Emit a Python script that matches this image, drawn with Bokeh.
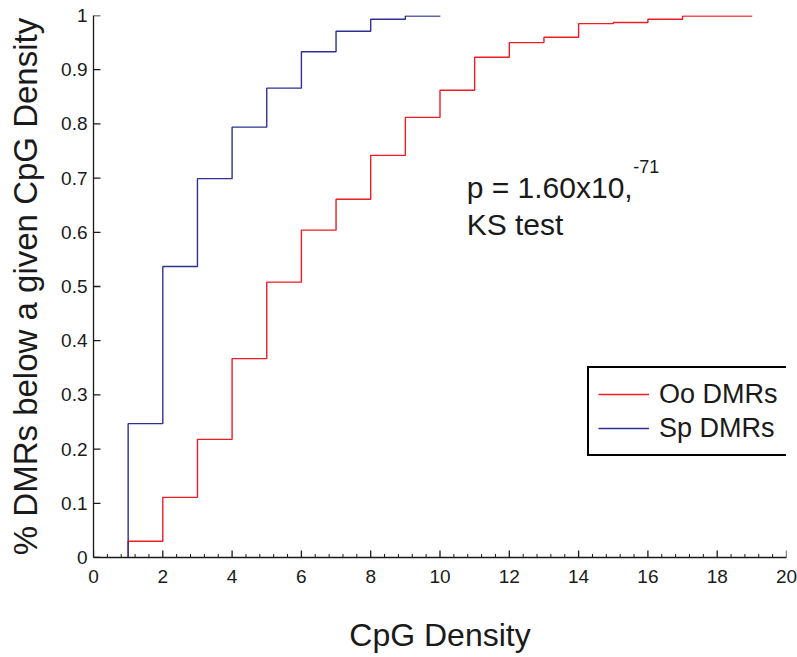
from bokeh.plotting import figure
from bokeh.models import Range1d, Legend, LegendItem, Label, FixedTicker
from bokeh.embed import file_html
from bokeh.resources import INLINE

# ---- data ----
oo_density = [1, 2, 3, 4, 5, 6, 7, 8, 9, 10, 11, 12, 13, 14, 15, 16, 17, 18, 19]
oo_cdf = [0.030, 0.111, 0.218, 0.367, 0.508, 0.604, 0.661, 0.742, 0.812, 0.862,
          0.923, 0.950, 0.960, 0.985, 0.987, 0.993, 0.999, 0.999, 1.000]
sp_density = [1, 2, 3, 4, 5, 6, 7, 8, 9, 10]
sp_cdf = [0.247, 0.537, 0.699, 0.794, 0.866, 0.933, 0.971, 0.993, 0.999, 1.000]

x_ticks = [0, 2, 4, 6, 8, 10, 12, 14, 16, 18, 20]
x_minor_ticks = [round(i * 0.4, 1) for i in range(51) if i % 5 != 0]
y_ticks = [0, 0.1, 0.2, 0.3, 0.4, 0.5, 0.6, 0.7, 0.8, 0.9, 1.0]
y_tick_labels = ["0", "0.1", "0.2", "0.3", "0.4", "0.5", "0.6", "0.7", "0.8", "0.9", "1"]

series_names = ["Oo DMRs", "Sp DMRs"]
annotation_main = "p = 1.60x10,"
annotation_exp = "-71"
annotation_test = "KS test"

FONT = "Liberation Sans"
RED = "#EE1C25"
BLUE = "#2E3192"
INK = "#1a1a1a"

W, H = 797, 657
BL, BR, BT, BB = 93, 11, 15, 100
X0, X1, Y0, Y1 = 0, 20, 0, 1
frame_w = W - BL - BR
frame_h = H - BT - BB
# pixel -> data conversions for tick lengths
px_x = (X1 - X0) / frame_w
px_y = (Y1 - Y0) / frame_h
MAJOR_LEN, MINOR_LEN = 7, 3.5

p = figure(width=W, height=H, output_backend="svg", toolbar_location=None,
           x_range=Range1d(X0, X1), y_range=Range1d(Y0, Y1),
           min_border_left=BL, min_border_right=BR, min_border_top=BT, min_border_bottom=BB)
p.outline_line_color = None
p.xgrid.visible = False
p.ygrid.visible = False
p.background_fill_color = "white"
p.border_fill_color = "white"

# inward tick marks at the tick values
p.segment(x0=x_ticks, y0=[Y0] * len(x_ticks), x1=x_ticks, y1=[Y0 + MAJOR_LEN * px_y] * len(x_ticks),
          line_color=INK, line_width=1.3)
p.segment(x0=x_minor_ticks, y0=[Y0] * len(x_minor_ticks), x1=x_minor_ticks,
          y1=[Y0 + MINOR_LEN * px_y] * len(x_minor_ticks), line_color=INK, line_width=1.0)
p.segment(x0=[X0] * len(y_ticks), y0=y_ticks, x1=[X0 + MAJOR_LEN * px_x] * len(y_ticks), y1=y_ticks,
          line_color=INK, line_width=1.3)

# step curves (MATLAB stairs-like), starting from 0 at the first density
r_oo = p.step(x=[oo_density[0]] + oo_density, y=[0] + oo_cdf, mode="after",
              line_color=RED, line_width=1.4)
r_sp = p.step(x=[sp_density[0]] + sp_density, y=[0] + sp_cdf, mode="after",
              line_color=BLUE, line_width=1.4)

# axes
for ax in (p.xaxis[0], p.yaxis[0]):
    ax.axis_line_color = INK
    ax.axis_line_width = 1.3
    ax.major_tick_line_color = None
    ax.minor_tick_line_color = None
    ax.major_tick_in = 0
    ax.major_tick_out = 0
    ax.minor_tick_in = 0
    ax.minor_tick_out = 0
    ax.major_label_text_font = FONT
    ax.major_label_text_font_size = "19px"
    ax.major_label_text_color = INK
    ax.axis_label_text_font = FONT
    ax.axis_label_text_font_size = "32px"
    ax.axis_label_text_font_style = "normal"
    ax.axis_label_text_color = INK

p.xaxis.ticker = FixedTicker(ticks=x_ticks, minor_ticks=[])
p.yaxis.ticker = FixedTicker(ticks=y_ticks, minor_ticks=[])
p.yaxis.major_label_overrides = {t: l for t, l in zip(y_ticks, y_tick_labels)}
p.xaxis.axis_label = "CpG Density"
p.yaxis.axis_label = "% DMRs below a given CpG Density"
p.yaxis.axis_label_text_font_size = "33px"
p.xaxis.major_label_standoff = 12
p.yaxis.major_label_standoff = 6
p.xaxis.axis_label_standoff = 31
p.yaxis.axis_label_standoff = 14

# legend
legend = Legend(items=[LegendItem(label=series_names[0], renderers=[r_oo]),
                       LegendItem(label=series_names[1], renderers=[r_sp])],
                location=(494, 101), orientation="vertical",
                border_line_color="#000000", border_line_width=2.2, border_line_alpha=1,
                background_fill_color="white", background_fill_alpha=1,
                label_text_font=FONT, label_text_font_size="27px", label_text_color=INK,
                glyph_width=51, glyph_height=20, label_standoff=10, label_height=34,
                padding=9, spacing=0, margin=0)
p.add_layout(legend, "center")

# annotation text
p.add_layout(Label(x=10.77, y=0.683, text=annotation_main, text_font=FONT,
                   text_font_size="30px", text_color=INK, text_baseline="alphabetic"))
p.add_layout(Label(x=15.58, y=0.722, text=annotation_exp, text_font=FONT,
                   text_font_size="18px", text_color=INK, text_baseline="alphabetic"))
p.add_layout(Label(x=10.77, y=0.615, text=annotation_test, text_font=FONT,
                   text_font_size="30px", text_color=INK, text_baseline="alphabetic"))

open("out.html", "w").write(file_html(p, INLINE))
